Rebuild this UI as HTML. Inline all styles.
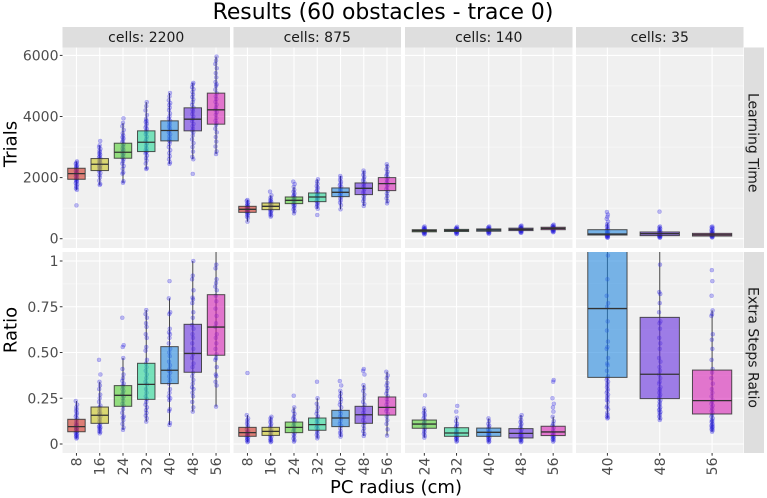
<!DOCTYPE html>
<html><head><meta charset="utf-8"><title>Results (60 obstacles - trace 0)</title>
<style>
html,body{margin:0;padding:0;background:#fff;width:767px;height:498px;overflow:hidden}
svg{display:block;filter:blur(0.35px)}
text{font-family:"DejaVu Sans","Liberation Sans",sans-serif}
</style></head>
<body>
<svg id="chart" width="767" height="498" viewBox="0 0 767 498" xmlns="http://www.w3.org/2000/svg">
<text x="383" y="19" font-size="21.9" text-anchor="middle" fill="#000">Results (60 obstacles - trace 0)</text>
<text x="396" y="493" font-size="18" text-anchor="middle" fill="#000">PC radius (cm)</text>
<text transform="translate(16.5,144) rotate(-90)" font-size="18" text-anchor="middle" fill="#000">Trials</text>
<text transform="translate(16.5,330) rotate(-90)" font-size="18" text-anchor="middle" fill="#000">Ratio</text>
<g id="layer"></g>
</svg>
<script>
// Facet labels and shared categories
const columnLabels = ['cells: 2200', 'cells: 875', 'cells: 140', 'cells: 35'];
const rowLabels = ['Learning Time', 'Extra Steps Ratio'];
const radiiAll = [8, 16, 24, 32, 40, 48, 56];
const radiiCells140 = [24, 32, 40, 48, 56];
const radiiCells35 = [40, 48, 56];
const trialTicks = [0, 2000, 4000, 6000];
const trialMinorTicks = [1000, 3000, 5000];
const ratioTicks = [0, 0.25, 0.5, 0.75, 1];
const ratioTickLabels = ['0', '0.25', '0.50', '0.75', '1'];
const ratioMinorTicks = [0.125, 0.375, 0.625, 0.875];

// Box stats per radius: [whisker low, q1, median, q3, whisker high]
const trials2200Stats = [[1600,1945,2131,2306,2530],[1760,2230,2437,2623,3060],[1830,2634,2830,3126,3790],[2280,2852,3158,3530,4470],[2450,3202,3541,3858,4770],[2600,3530,3912,4284,5100],[2770,3749,4219,4765,5960]];
const trials875Stats = [[557,863,962,1060,1268],[721,951,1060,1169,1420],[830,1148,1257,1366,1700],[980,1213,1366,1497,1945],[962,1377,1519,1661,2054],[1071,1443,1650,1825,2230],[1158,1574,1803,2000,2437]];
const trials140Stats = [[140,225,262,295,400],[150,235,273,305,390],[160,245,284,320,400],[190,265,306,345,430],[210,295,339,375,460]];
const trials35Stats = [[30,120,153,295,500],[30,100,164,220,400],[40,87,130,175,300]];
const ratio2200Stats = [[0.03,0.067,0.095,0.135,0.235],[0.058,0.113,0.157,0.202,0.34],[0.077,0.206,0.266,0.319,0.47],[0.122,0.244,0.326,0.441,0.732],[0.104,0.33,0.403,0.532,0.796],[0.177,0.392,0.495,0.654,1.0],[0.204,0.485,0.639,0.816,1.1]];
const ratio875Stats = [[0.01,0.042,0.062,0.091,0.158],[0.01,0.047,0.069,0.091,0.149],[0.013,0.062,0.091,0.12,0.2],[0.031,0.075,0.106,0.142,0.25],[0.04,0.095,0.142,0.184,0.291],[0.044,0.113,0.16,0.206,0.322],[0.046,0.158,0.2,0.257,0.395]];
const ratio140Stats = [[0.035,0.086,0.109,0.131,0.195],[0.013,0.042,0.06,0.089,0.144],[0.01,0.042,0.064,0.087,0.14],[0.01,0.033,0.058,0.084,0.158],[0.013,0.046,0.066,0.097,0.149]];
const ratio35Stats = [[0.14,0.364,0.74,1.4,1.4],[0.131,0.248,0.381,0.692,1.1],[0.067,0.164,0.237,0.404,0.73]];

// Individual trial values per radius
const trials2200Points = [
[1090,1600,1640,1690,1730,1780,1820,1860,1890,1920,1950,1980,2010,2040,2070,2100,2120,2140,2170,2190,2220,2250,2280,2310,2340,2380,2410,2450,2490,2530],
[1760,1790,1900,2010,2080,2150,2210,2250,2290,2320,2330,2370,2400,2430,2460,2490,2520,2550,2590,2620,2660,2700,2750,2790,2830,2880,2940,3000,3060,3200],
[1830,1880,2130,2170,2290,2380,2460,2530,2600,2650,2700,2750,2790,2830,2870,2910,2950,3000,3050,3100,3160,3220,3280,3320,3380,3450,3560,3680,3790,3940],
[2280,2310,2460,2560,2640,2720,2790,2830,2860,2900,2960,3040,3120,3180,3260,3340,3420,3480,3530,3590,3640,3700,3770,3820,3860,3920,4050,4200,4340,4470],
[2450,2500,2600,2700,2800,2900,3000,3100,3180,3220,3280,3350,3420,3480,3540,3600,3660,3720,3790,3860,3930,4000,4100,4210,4290,4380,4440,4530,4660,4770],
[2120,2600,2680,2850,3000,3130,3250,3380,3480,3540,3600,3680,3760,3850,3920,4000,4080,4160,4220,4290,4380,4470,4560,4640,4720,4800,4890,4960,5050,5100],
[2770,2860,3020,3180,3330,3480,3600,3720,3780,3860,3950,4060,4140,4220,4300,4390,4480,4570,4660,4760,4880,5000,5050,5130,5280,5420,5580,5720,5830,5960]];
const trials875Points = [
[557,680,720,770,810,840,870,890,910,930,950,970,990,1010,1030,1050,1080,1110,1150,1190,1240,1268],
[721,760,800,840,880,920,950,980,1010,1040,1060,1090,1120,1150,1180,1210,1250,1290,1340,1420,1541],
[830,900,960,1010,1060,1100,1140,1170,1210,1250,1280,1310,1350,1390,1430,1480,1540,1600,1700,1790,1869],
[776,980,1040,1090,1140,1180,1230,1280,1330,1370,1410,1450,1500,1550,1610,1670,1720,1800,1870,1945],
[962,1100,1180,1250,1310,1370,1420,1470,1510,1560,1600,1650,1700,1750,1800,1860,1920,1990,2054],
[1071,1150,1230,1300,1370,1440,1500,1560,1620,1680,1730,1790,1840,1900,1960,2020,2090,2160,2230],
[1158,1230,1320,1400,1480,1560,1620,1690,1760,1820,1880,1940,2000,2060,2120,2190,2270,2360,2437]];
const trials140Points = [
[140,160,180,195,210,225,235,245,255,265,275,285,295,310,325,345,370,400],
[150,170,190,205,220,235,250,262,273,285,295,305,320,335,355,390],
[160,180,195,215,230,245,258,270,284,295,305,320,335,355,380,400],
[190,205,220,240,255,265,280,295,306,320,335,345,360,385,410,430],
[210,230,245,260,280,295,310,325,339,350,365,375,390,410,435,460]];
const trials35Points = [
[30,45,60,75,90,105,120,135,150,170,190,215,240,270,300,340,390,430,480,560,650,720,790,875],
[30,45,60,75,90,100,115,130,150,170,190,210,230,260,290,330,370,400,885],
[40,55,70,85,95,110,125,140,155,175,195,220,250,280,320,350,380,400]];
const ratio2200Points = [
[0.03,0.035,0.04,0.045,0.05,0.055,0.06,0.065,0.07,0.075,0.08,0.085,0.09,0.095,0.1,0.105,0.11,0.12,0.13,0.14,0.15,0.16,0.17,0.18,0.19,0.2,0.215,0.235],
[0.058,0.065,0.07,0.08,0.085,0.09,0.095,0.1,0.11,0.12,0.13,0.14,0.15,0.16,0.165,0.17,0.18,0.19,0.2,0.21,0.23,0.25,0.27,0.3,0.32,0.34,0.38,0.46],
[0.077,0.09,0.11,0.13,0.145,0.15,0.17,0.19,0.21,0.22,0.235,0.25,0.26,0.27,0.28,0.29,0.3,0.31,0.32,0.33,0.345,0.36,0.38,0.41,0.47,0.53,0.54,0.69],
[0.122,0.14,0.155,0.17,0.185,0.2,0.215,0.23,0.245,0.26,0.28,0.3,0.325,0.34,0.36,0.38,0.4,0.42,0.44,0.46,0.51,0.53,0.58,0.6,0.64,0.66,0.69,0.71,0.732],
[0.104,0.115,0.18,0.19,0.24,0.25,0.26,0.28,0.3,0.33,0.35,0.37,0.39,0.4,0.41,0.43,0.45,0.48,0.5,0.52,0.55,0.58,0.6,0.61,0.63,0.71,0.72,0.796,0.89],
[0.177,0.2,0.23,0.26,0.28,0.3,0.31,0.33,0.35,0.37,0.39,0.42,0.44,0.47,0.49,0.52,0.55,0.58,0.6,0.63,0.65,0.69,0.72,0.77,0.79,0.8,0.84,0.9,0.92,1.0],
[0.204,0.32,0.34,0.37,0.38,0.42,0.46,0.47,0.49,0.52,0.55,0.58,0.6,0.64,0.66,0.7,0.74,0.78,0.81,0.84,0.86,0.88,0.9,0.96,0.98]];
const ratio875Points = [
[0.01,0.015,0.02,0.025,0.03,0.035,0.04,0.045,0.05,0.055,0.06,0.065,0.07,0.08,0.09,0.1,0.11,0.12,0.13,0.14,0.158,0.388],
[0.01,0.015,0.02,0.025,0.03,0.04,0.045,0.05,0.06,0.065,0.07,0.075,0.08,0.09,0.1,0.11,0.12,0.13,0.14,0.149],
[0.013,0.02,0.03,0.04,0.05,0.06,0.07,0.08,0.09,0.1,0.11,0.12,0.13,0.14,0.15,0.165,0.18,0.2,0.264],
[0.031,0.04,0.05,0.06,0.07,0.08,0.09,0.1,0.11,0.12,0.13,0.14,0.15,0.165,0.18,0.2,0.22,0.25,0.34],
[0.04,0.05,0.06,0.07,0.085,0.1,0.11,0.125,0.14,0.15,0.165,0.18,0.2,0.215,0.23,0.245,0.26,0.275,0.291,0.32,0.344],
[0.044,0.055,0.07,0.085,0.1,0.115,0.13,0.145,0.16,0.17,0.185,0.2,0.215,0.23,0.25,0.27,0.29,0.305,0.322,0.38,0.4,0.41],
[0.046,0.08,0.11,0.13,0.15,0.165,0.18,0.19,0.2,0.215,0.23,0.245,0.26,0.275,0.29,0.305,0.32,0.335,0.36,0.375,0.395]];
const ratio140Points = [
[0.035,0.045,0.055,0.065,0.075,0.085,0.095,0.1,0.105,0.11,0.115,0.12,0.13,0.14,0.15,0.16,0.17,0.18,0.195,0.266],
[0.013,0.018,0.025,0.03,0.035,0.04,0.045,0.05,0.055,0.06,0.065,0.07,0.08,0.09,0.1,0.11,0.125,0.144,0.177,0.208],
[0.01,0.015,0.02,0.025,0.03,0.035,0.04,0.045,0.05,0.055,0.06,0.065,0.07,0.08,0.09,0.1,0.11,0.125,0.14],
[0.01,0.015,0.02,0.025,0.03,0.035,0.04,0.045,0.05,0.055,0.06,0.07,0.08,0.09,0.1,0.11,0.12,0.13,0.145,0.158],
[0.013,0.02,0.025,0.03,0.035,0.04,0.045,0.05,0.055,0.06,0.07,0.08,0.09,0.1,0.11,0.125,0.149,0.177,0.2,0.22,0.25,0.34,0.35]];
const ratio35Points = [
[0.14,0.145,0.15,0.16,0.17,0.19,0.2,0.21,0.23,0.24,0.25,0.26,0.27,0.28,0.29,0.3,0.31,0.32,0.33,0.34,0.35,0.36,0.37,0.4,0.43,0.44,0.47,0.52,0.53,0.56,0.62,0.67,0.75,0.77,0.81,0.9,1.03],
[0.131,0.14,0.15,0.16,0.17,0.175,0.185,0.19,0.2,0.21,0.22,0.23,0.24,0.25,0.26,0.27,0.28,0.29,0.3,0.31,0.33,0.34,0.36,0.38,0.4,0.42,0.45,0.47,0.52,0.55,0.58,0.63,0.66,0.67,0.72,0.77,0.82,0.83,0.98],
[0.067,0.075,0.08,0.085,0.09,0.095,0.1,0.105,0.11,0.12,0.125,0.13,0.14,0.15,0.16,0.17,0.18,0.19,0.2,0.21,0.22,0.23,0.24,0.26,0.28,0.3,0.33,0.36,0.39,0.41,0.46,0.52,0.57,0.6,0.7,0.71,0.73,0.81,0.89,0.95]];

// Layout
const columnCategories = [radiiAll, radiiAll, radiiCells140, radiiCells35];
const columnLeft = [62.5, 233.5, 405, 576];
const panelWidth = 167.5;
const rowTop = [47.5, 252];
const rowBottom = [248, 453];
const statsGrid = [[trials2200Stats, trials875Stats, trials140Stats, trials35Stats], [ratio2200Stats, ratio875Stats, ratio140Stats, ratio35Stats]];
const pointsGrid = [[trials2200Points, trials875Points, trials140Points, trials35Points], [ratio2200Points, ratio875Points, ratio140Points, ratio35Points]];
const radiusColors = {8:'#cf2b1e',16:'#cac517',24:'#4ecf2b',32:'#1ed593',40:'#1e85df',48:'#6128df',56:'#d51bb4'};

function yScale(row, v) {
  return row === 0 ? 238.7 - v * 183.3 / 6000 : 444 - v * 183;
}
function xStep(col) {
  return panelWidth / (columnCategories[col].length + 0.2);
}
function xScale(col, i) {
  return columnLeft[col] + (i + 0.6) * xStep(col);
}

const NS = 'http://www.w3.org/2000/svg';
const layer = document.getElementById('layer');
function make(tag, attrs, parent, txt) {
  const el = document.createElementNS(NS, tag);
  for (const k in attrs) el.setAttribute(k, attrs[k]);
  if (txt !== undefined) el.textContent = txt;
  (parent || layer).appendChild(el);
  return el;
}
const jitterPattern = [0, 0.5, -0.5, 0.25, -0.25, 0.7, -0.7];

const defs = make('defs', {});
rowTop.forEach(function (top, r) {
  columnLeft.forEach(function (left, c) {
    const clip = make('clipPath', {id: 'clip-' + r + '-' + c}, defs);
    make('rect', {x: left, y: top, width: panelWidth, height: rowBottom[r] - top}, clip);
  });
});

// Strips
columnLabels.forEach(function (label, c) {
  const strip = make('rect', {x: columnLeft[c], y: 27, width: panelWidth, height: 20.5, fill: '#dedede'});
  
  
  const t = make('text', {x: columnLeft[c] + panelWidth / 2, y: 42, 'font-size': 14, 'text-anchor': 'middle', fill: '#1a1a1a'}, layer, label);
  
  
});
rowLabels.forEach(function (label, r) {
  const strip = make('rect', {x: 744, y: rowTop[r], width: 20, height: rowBottom[r] - rowTop[r], fill: '#dedede'});
  
  
  const cy = (rowTop[r] + rowBottom[r]) / 2 - 5;
  const t = make('text', {transform: 'translate(748.5,' + cy + ') rotate(90)', 'font-size': 14, 'text-anchor': 'middle', fill: '#1a1a1a'}, layer, label);
  
  
});

// Panels
rowTop.forEach(function (top, r) {
  const major = r === 0 ? trialTicks : ratioTicks;
  const minor = r === 0 ? trialMinorTicks : ratioMinorTicks;
  columnLeft.forEach(function (left, c) {
    const panel = make('g', {});
    
    
    make('rect', {x: left, y: top, width: panelWidth, height: rowBottom[r] - top, fill: '#f0f0f0'}, panel);
    minor.forEach(function (v) {
      const y = yScale(r, v);
      make('line', {x1: left, x2: left + panelWidth, y1: y, y2: y, stroke: '#fafafa', 'stroke-width': 0.6}, panel);
    });
    major.forEach(function (v) {
      const y = yScale(r, v);
      make('line', {x1: left, x2: left + panelWidth, y1: y, y2: y, stroke: '#fff', 'stroke-width': 1.1}, panel);
    });
    const cats = columnCategories[c];
    cats.forEach(function (cat, i) {
      const x = xScale(c, i);
      make('line', {x1: x, x2: x, y1: top, y2: rowBottom[r], stroke: '#fff', 'stroke-width': 1.1}, panel);
    });
    const marks = make('g', {'clip-path': 'url(#clip-' + r + '-' + c + ')'}, panel);
    const boxW = xStep(c) * 0.75;
    cats.forEach(function (cat, i) {
      const x = xScale(c, i);
      const s = statsGrid[r][c][i];
      const whisker = make('line', {x1: x, x2: x, y1: yScale(r, s[0]), y2: yScale(r, s[4]), stroke: '#444', 'stroke-width': 1}, marks);
      
      
      pointsGrid[r][c][i].forEach(function (v, j) {
        const p = make('circle', {cx: x + jitterPattern[j % jitterPattern.length], cy: yScale(r, v), r: 2, fill: '#2a22e0', 'fill-opacity': 0.3, stroke: '#2a22e0', 'stroke-opacity': 0.3, 'stroke-width': 0.5}, marks);
        
        
      });
      const boxTop = yScale(r, s[3]);
      const boxBottom = yScale(r, s[1]);
      const box = make('rect', {x: x - boxW / 2, y: boxTop, width: boxW, height: boxBottom - boxTop, fill: radiusColors[cat], 'fill-opacity': 0.58, stroke: '#333', 'stroke-opacity': 0.85, 'stroke-width': 1}, marks);
      
      
      const ym = yScale(r, s[2]);
      const med = make('line', {x1: x - boxW / 2, x2: x + boxW / 2, y1: ym, y2: ym, stroke: '#333', 'stroke-width': 1.3}, marks);
      
      
    });
  });
});

// Y axes
trialTicks.forEach(function (v) {
  const y = yScale(0, v);
  const tick = make('line', {x1: 59.8, x2: 62.5, y1: y, y2: y, stroke: '#333', 'stroke-width': 1});
  
  
  const t = make('text', {x: 58.5, y: y + 5, 'font-size': 14, 'text-anchor': 'end', fill: '#4d4d4d'}, layer, String(v));
  
  
});
ratioTicks.forEach(function (v, i) {
  const y = yScale(1, v);
  const tick = make('line', {x1: 59.8, x2: 62.5, y1: y, y2: y, stroke: '#333', 'stroke-width': 1});
  
  
  const t = make('text', {x: 58.5, y: y + 5, 'font-size': 14, 'text-anchor': 'end', fill: '#4d4d4d'}, layer, ratioTickLabels[i]);
  
  
});

// X axes
columnCategories.forEach(function (cats, c) {
  cats.forEach(function (cat, i) {
    const x = xScale(c, i);
    const tick = make('line', {x1: x, x2: x, y1: 453, y2: 455.7, stroke: '#333', 'stroke-width': 1});
    
    
    const t = make('text', {transform: 'translate(' + (x + 5) + ',457.5) rotate(-90)', 'font-size': 14, 'text-anchor': 'end', fill: '#4d4d4d'}, layer, String(cat));
    
    
  });
});
</script>
</body></html>
